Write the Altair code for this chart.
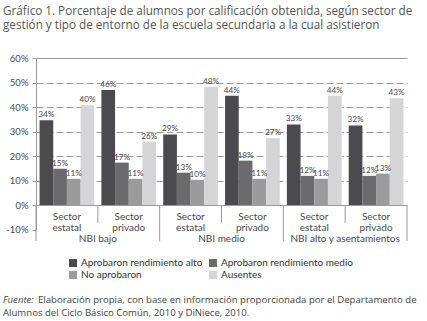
import altair as alt
import pandas as pd

grupos = ["NBI bajo", "NBI medio", "NBI alto y asentamientos"]
sectores = ["Sector estatal", "Sector privado"]
series = ["Aprobaron rendimiento alto", "Aprobaron rendimiento medio", "No aprobaron", "Ausentes"]
colores = ["#4b4b4f", "#6b6b6e", "#9b9b9d", "#d5d5d7"]

# order: bajo-estatal, bajo-privado, medio-estatal, medio-privado, alto-estatal, alto-privado
val_alto = [34.6, 46.9, 28.8, 44.6, 32.9, 32.5]
val_medio = [14.8, 17.3, 13.2, 18.1, 11.9, 11.9]
val_no = [10.7, 10.7, 10.3, 10.7, 10.7, 12.8]
val_aus = [40.7, 25.9, 48.3, 27.2, 44.6, 43.6]
lab_alto = ["34%", "46%", "29%", "44%", "33%", "32%"]
lab_medio = ["15%", "17%", "13%", "18%", "12%", "12%"]
lab_no = ["11%", "11%", "10%", "11%", "11%", "13%"]
lab_aus = ["40%", "26%", "48%", "27%", "44%", "43%"]

y_ticks = [-10, 0, 10, 20, 30, 40, 50, 60]

titulo = ["Gráfico 1. Porcentaje de alumnos por calificación obtenida, según sector de",
          "gestión y tipo de entorno de la escuela secundaria a la cual asistieron"]
fuente_it = "Fuente:"
fuente_1 = "Elaboración propia, con base en información proporcionada por el Departamento de"
fuente_2 = "Alumnos del Ciclo Básico Común, 2010 y DiNiece, 2010."

FONT = "Lato"
TXT = "#4a4a4a"

subs = [f"{g}|{s}" for g in grupos for s in sectores]
rows = []
for vals, labs, serie in [(val_alto, lab_alto, series[0]), (val_medio, lab_medio, series[1]),
                          (val_no, lab_no, series[2]), (val_aus, lab_aus, series[3])]:
    for sub, v, l in zip(subs, vals, labs):
        rows.append({"sub": sub, "serie": serie, "valor": v, "etiqueta": l})
df = pd.DataFrame(rows)

xscale = alt.Scale(domain=subs, paddingInner=0, paddingOuter=0)
yscale = alt.Scale(domain=[-10, 60], nice=False)
offscale = alt.Scale(domain=series, paddingInner=0, paddingOuter=0.26)

grid_dash = {"condition": {"test": "datum.value > 0 && datum.value < 60", "value": [7, 3]}, "value": []}
grid_op = {"condition": {"test": "datum.value < 0", "value": 0}, "value": 1}

yaxis = alt.Axis(values=y_ticks, labelExpr="datum.value + '%'", grid=True, title=None,
                 gridDash=grid_dash, gridOpacity=grid_op, gridColor="#9a9a9a",
                 domainColor="#9a9a9a", tickColor="#9a9a9a", tickSize=4,
                 labelOverlap=False, labelFlush=False,
                 labelColor=TXT, labelFont=FONT, labelFontSize=9.5, labelPadding=4)

bars = alt.Chart(df).mark_bar().encode(
    x=alt.X("sub:N", scale=xscale, axis=None),
    xOffset=alt.XOffset("serie:N", sort=series, scale=offscale),
    y=alt.Y("valor:Q", scale=yscale, title=None, axis=yaxis),
    color=alt.Color("serie:N", sort=series, scale=alt.Scale(domain=series, range=colores),
                    legend=alt.Legend(title=None, orient="none", legendX=32, legendY=200,
                                      direction="horizontal",
                                      columns=2, columnPadding=5, rowPadding=2,
                                      symbolType="square", symbolSize=64, symbolStrokeWidth=0,
                                      symbolOpacity=1,
                                      labelFont=FONT, labelFontSize=10, labelColor="#333",
                                      labelOffset=3)),
)

labels = alt.Chart(df).mark_text(baseline="bottom", dy=-1, font=FONT, fontSize=8.2, color=TXT).encode(
    x=alt.X("sub:N", scale=xscale, axis=None),
    xOffset=alt.XOffset("serie:N", sort=series, scale=offscale),
    y=alt.Y("valor:Q", scale=yscale, title=None, axis=yaxis),
    text="etiqueta:N",
)

sec_df = pd.DataFrame({"sub": subs, "texto": [s.replace(" ", "\n") for g in grupos for s in sectores]})
sec_text = alt.Chart(sec_df).mark_text(lineBreak="\n", baseline="middle", lineHeight=11,
                                       font=FONT, fontSize=10, color=TXT).encode(
    x=alt.X("sub:N", scale=xscale, axis=None),
    y=alt.YDatum(-4.8, scale=yscale, axis=yaxis),
    text="texto:N",
)

grp_df = pd.DataFrame({"sub": [f"{g}|{sectores[0]}" for g in grupos], "texto": grupos})
grp_text = alt.Chart(grp_df).mark_text(baseline="middle", font=FONT, fontSize=10, color=TXT).encode(
    x=alt.X("sub:N", scale=xscale, axis=None, bandPosition=1),
    y=alt.YDatum(-13.7, scale=yscale, axis=yaxis),
    text="texto:N",
)

long_df = pd.DataFrame({"sub": [f"{g}|{sectores[0]}" for g in grupos]})
long_rules = alt.Chart(long_df).mark_rule(color="#9a9a9a").encode(
    x=alt.X("sub:N", scale=xscale, axis=None, bandPosition=0),
    y=alt.YDatum(0, scale=yscale, axis=yaxis), y2=alt.Y2Datum(-14.7),
)
end_df = pd.DataFrame({"sub": [subs[-1]]})
end_rule = alt.Chart(end_df).mark_rule(color="#9a9a9a").encode(
    x=alt.X("sub:N", scale=xscale, axis=None, bandPosition=1),
    y=alt.YDatum(0, scale=yscale, axis=yaxis), y2=alt.Y2Datum(-14.7),
)
short_df = pd.DataFrame({"sub": [f"{g}|{sectores[1]}" for g in grupos]})
short_rules = alt.Chart(short_df).mark_rule(color="#9a9a9a").encode(
    x=alt.X("sub:N", scale=xscale, axis=None, bandPosition=0),
    y=alt.YDatum(0, scale=yscale, axis=yaxis), y2=alt.Y2Datum(-7.3),
)

title_df = pd.DataFrame({"t": ["\n".join(titulo)]})
title_text = alt.Chart(title_df).mark_text(align="left", baseline="alphabetic", lineBreak="\n",
                                           lineHeight=14.5, font="Open Sans", fontSize=11.7,
                                           color="#555555").encode(
    x=alt.value(-33), y=alt.value(-43.5), text="t:N")

f_df = pd.DataFrame({"a": [fuente_it], "b": [fuente_1], "c": [fuente_2]})
f_it = alt.Chart(f_df).mark_text(align="left", baseline="middle", font="Open Sans", fontSize=9.6,
                                 fontStyle="italic", color="#444").encode(
    x=alt.value(-33), y=alt.value(242), text="a:N")
f_1 = alt.Chart(f_df).mark_text(align="left", baseline="middle", font="Open Sans", fontSize=9.6,
                                color="#444").encode(
    x=alt.value(2), y=alt.value(242), text="b:N")
f_2 = alt.Chart(f_df).mark_text(align="left", baseline="middle", font="Open Sans", fontSize=9.6,
                                color="#444").encode(
    x=alt.value(-33), y=alt.value(255), text="c:N")

chart = alt.layer(bars, labels, sec_text, grp_text, long_rules, end_rule, short_rules,
                  title_text, f_it, f_1, f_2).properties(
    width=371, height=171.5,
    autosize=alt.AutoSizeParams(type="none"),
    padding={"left": 36, "top": 58, "right": 20, "bottom": 92},
    background="white",
).configure_view(stroke=None)

chart.save("out.html", embed_options={"renderer": "svg", "actions": False})
